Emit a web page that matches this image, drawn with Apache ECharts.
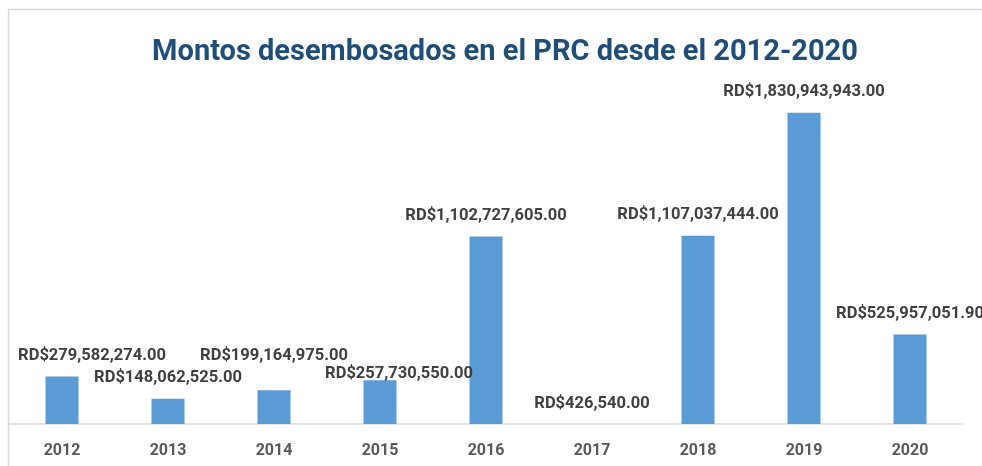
<!DOCTYPE html>
<html>
<head>
<meta charset="utf-8">
<script src="https://cdn.jsdelivr.net/npm/echarts@6/dist/echarts.min.js"></script>
<style>
html,body{margin:0;padding:0;background:#fff;}
#chart{width:982px;height:466px;}
</style>
</head>
<body>
<div id="chart"></div>
<script>
const titleText = 'Montos desembosados en el PRC desde el 2012-2020';
const years = ['2012','2013','2014','2015','2016','2017','2018','2019','2020'];
const amounts = [279582274.00, 148062525.00, 199164975.00, 257730550.00, 1102727605.00, 426540.00, 1107037444.00, 1830943943.00, 525957051.90];
// label nudges (style only), same order as years
const labelNudges = [[30,0],[0,0],[0,-14],[19,14],[0,0],[0,0],[0,0],[0,0],[0,0]];

const chart = echarts.init(document.getElementById('chart'), null, {renderer:'canvas'});
const fmt = v => 'RD$' + Number(v).toLocaleString('en-US',{minimumFractionDigits:2, maximumFractionDigits:2});

chart.setOption({
  animation:false,
  backgroundColor:'#fff',
  textStyle:{fontFamily:'Roboto'},
  title:{
    text:titleText,
    left:500, top:33, textAlign:'center',
    textStyle:{fontFamily:'Roboto', fontWeight:'bold', fontSize:29, color:'#1F4E79'}
  },
  graphic:[{
    type:'rect', silent:true, z:-1,
    shape:{x:8.5, y:9.5, width:1100, height:600},
    style:{fill:'none', stroke:'#D9D9D9', lineWidth:1.5}
  }],
  grid:{left:9, right:19, top:84, bottom:42, containLabel:false},
  xAxis:{
    type:'category', data:years,
    axisLine:{show:true, lineStyle:{color:'#D9D9D9', width:1.5}},
    axisTick:{show:false},
    axisLabel:{color:'#595959', fontWeight:'bold', fontSize:16, fontFamily:'Roboto', margin:19}
  },
  yAxis:{
    type:'value', min:0, max:2000000000,
    show:false, splitLine:{show:false}
  },
  series:[{
    type:'bar',
    barWidth:33,
    itemStyle:{color:'#5B9BD5'},
    label:{
      show:true, position:'top', distance:12,
      color:'#404040', fontWeight:'bold', fontSize:16.5, fontFamily:'Roboto',
      formatter:p => fmt(p.value)
    },
    data:amounts.map((v,i) => ({value:v, label:{offset:labelNudges[i]}}))
  }]
});
</script>
</body>
</html>
